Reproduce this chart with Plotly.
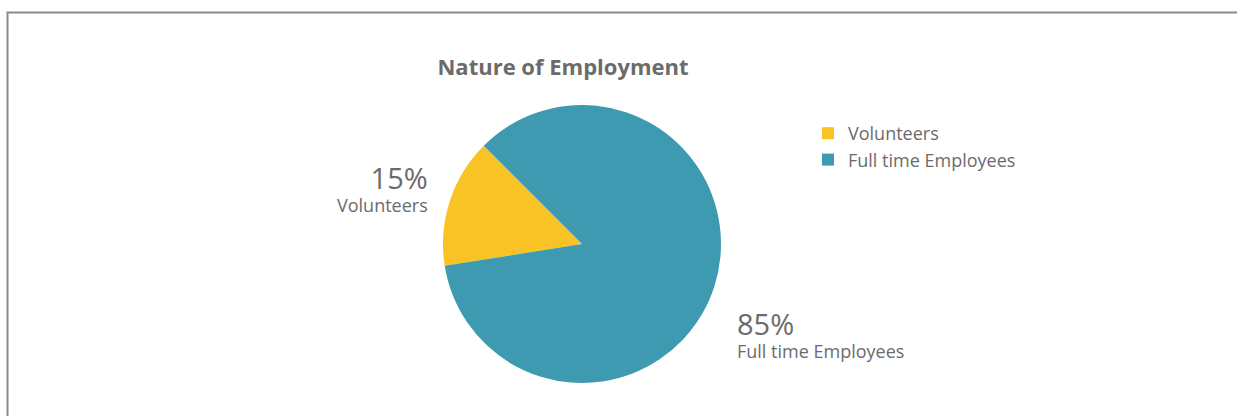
import plotly.graph_objects as go

# Staff breakdown by nature of employment
categories = ["Volunteers", "Full time Employees"]
values = [15, 85]
colors = ["#F9C225", "#3D9AB1"]

FONT = "Open Sans"
GREY = "#6B6B6B"
W, H = 1237, 416

total = sum(values)
pct = [round(v / total * 100) for v in values]

fig = go.Figure(
    go.Pie(
        labels=categories,
        values=values,
        marker=dict(colors=colors, line=dict(width=0)),
        textinfo="none",
        sort=False,
        direction="clockwise",
        rotation=-99,
        hoverinfo="label+percent",
        domain=dict(x=[443 / W, 721 / W], y=[33 / H, 311 / H]),
    )
)

# Outside labels: big percentage with the category name beneath
label_spots = [
    dict(x=430 / W, anchor="right", y=1 - 188 / H),
    dict(x=735 / W, anchor="left", y=1 - 333 / H),
]
for p, name, spot in zip(pct, categories, label_spots):
    fig.add_annotation(
        x=spot["x"], y=spot["y"], xref="paper", yref="paper",
        text=f"<span style='font-size:29px'>{p}%</span><br>{name}",
        showarrow=False, xanchor=spot["anchor"], yanchor="middle",
        align=spot["anchor"],
        font=dict(family=FONT, size=18, color=GREY),
    )

# Frame around the chart
fig.add_shape(
    type="rect", xref="paper", yref="paper",
    x0=7.5 / W, x1=1.05, y0=-0.1, y1=1 - 12.5 / H,
    line=dict(color="#8A8A8A", width=2),
)

fig.update_layout(
    width=W, height=H,
    margin=dict(l=0, r=0, t=0, b=0),
    paper_bgcolor="white",
    plot_bgcolor="white",
    title=dict(
        text="<b>Nature of Employment</b>",
        x=563 / W, y=1 - 67 / H, xanchor="center", yanchor="middle",
        font=dict(family=FONT, size=22, color=GREY),
    ),
    legend=dict(
        x=808 / W, y=1 - 115 / H, xanchor="left", yanchor="top",
        font=dict(family=FONT, size=18, color=GREY),
        bgcolor="rgba(0,0,0,0)",
    ),
    showlegend=True,
)

fig.write_html("out.html")
